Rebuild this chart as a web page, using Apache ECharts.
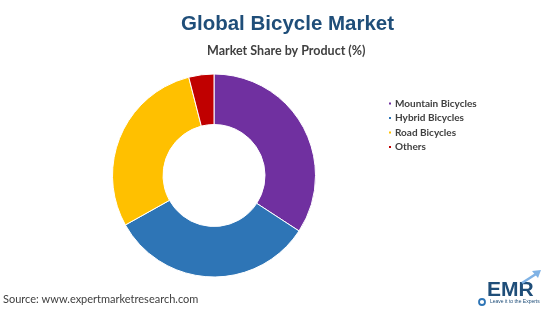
<!DOCTYPE html>
<html><head><meta charset="utf-8">
<script src="https://cdn.jsdelivr.net/npm/echarts@6/dist/echarts.min.js"></script>
<style>html,body{margin:0;padding:0;background:#fff}#c{width:550px;height:309px}</style>
</head><body><div id="c"></div>
<script>
const categories = ['Mountain Bicycles', 'Hybrid Bicycles', 'Road Bicycles', 'Others'];
const shares = [34.2, 32.7, 29.1, 4.0];
const colors = ['#7030A0', '#2E75B6', '#FFC000', '#C00000'];

const chart = echarts.init(document.getElementById('c'));
chart.setOption({
  animation: false,
  color: colors,
  title: [
    {text: 'Global Bicycle Market', left: 176, top: 9,
     textStyle: {fontFamily: 'Liberation Sans', fontWeight: 'bold', fontSize: 20.5, color: '#1F4E79'}},
    {text: 'Market Share by Product (%)', left: 202, top: 39,
     textStyle: {fontFamily: 'Lato', fontWeight: 'bold', fontSize: 12.5, color: '#404040'}}
  ],
  legend: {
    orient: 'vertical', left: 387, top: 98, itemWidth: 4, itemHeight: 4, itemGap: 3.5,
    icon: 'rect', padding: 0,
    textStyle: {fontFamily: 'Lato', fontWeight: 'bold', fontSize: 10, color: '#404040', padding: [0,0,0,-2], lineHeight: 11},
    data: categories
  },
  series: [{
    type: 'pie', center: [214, 175.5], radius: [51, 101.5], startAngle: 90, clockwise: true,
    label: {show: false}, labelLine: {show: false},
    itemStyle: {borderColor: '#fff', borderWidth: 1},
    data: categories.map((n, i) => ({name: n, value: shares[i]}))
  }],
  graphic: [
    {type: 'text', left: 3, top: 294, style: {text: 'Source: www.expertmarketresearch.com', font: '11px Lato', fill: '#404040'}},
    {type: 'text', left: 487, top: 280, style: {text: 'EMR', font: 'bold 21px "Liberation Sans"', fill: '#1F4E79'}},
    {type: 'text', left: 490, top: 299, style: {text: 'Leave it to the Experts', font: '5px "Liberation Sans"', fill: '#1F4E79'}},
    {type: 'circle', shape: {cx: 482, cy: 302, r: 3}, style: {fill: 'none', stroke: '#2E75B6', lineWidth: 1.8}},
    {type: 'polyline', shape: {points: [[522, 283], [536, 274]]}, style: {stroke: '#7FB2E5', lineWidth: 2.5}},
    {type: 'polygon', shape: {points: [[541, 270], [532, 271], [538, 278]]}, style: {fill: '#7FB2E5'}}
  ]
});
</script></body></html>
